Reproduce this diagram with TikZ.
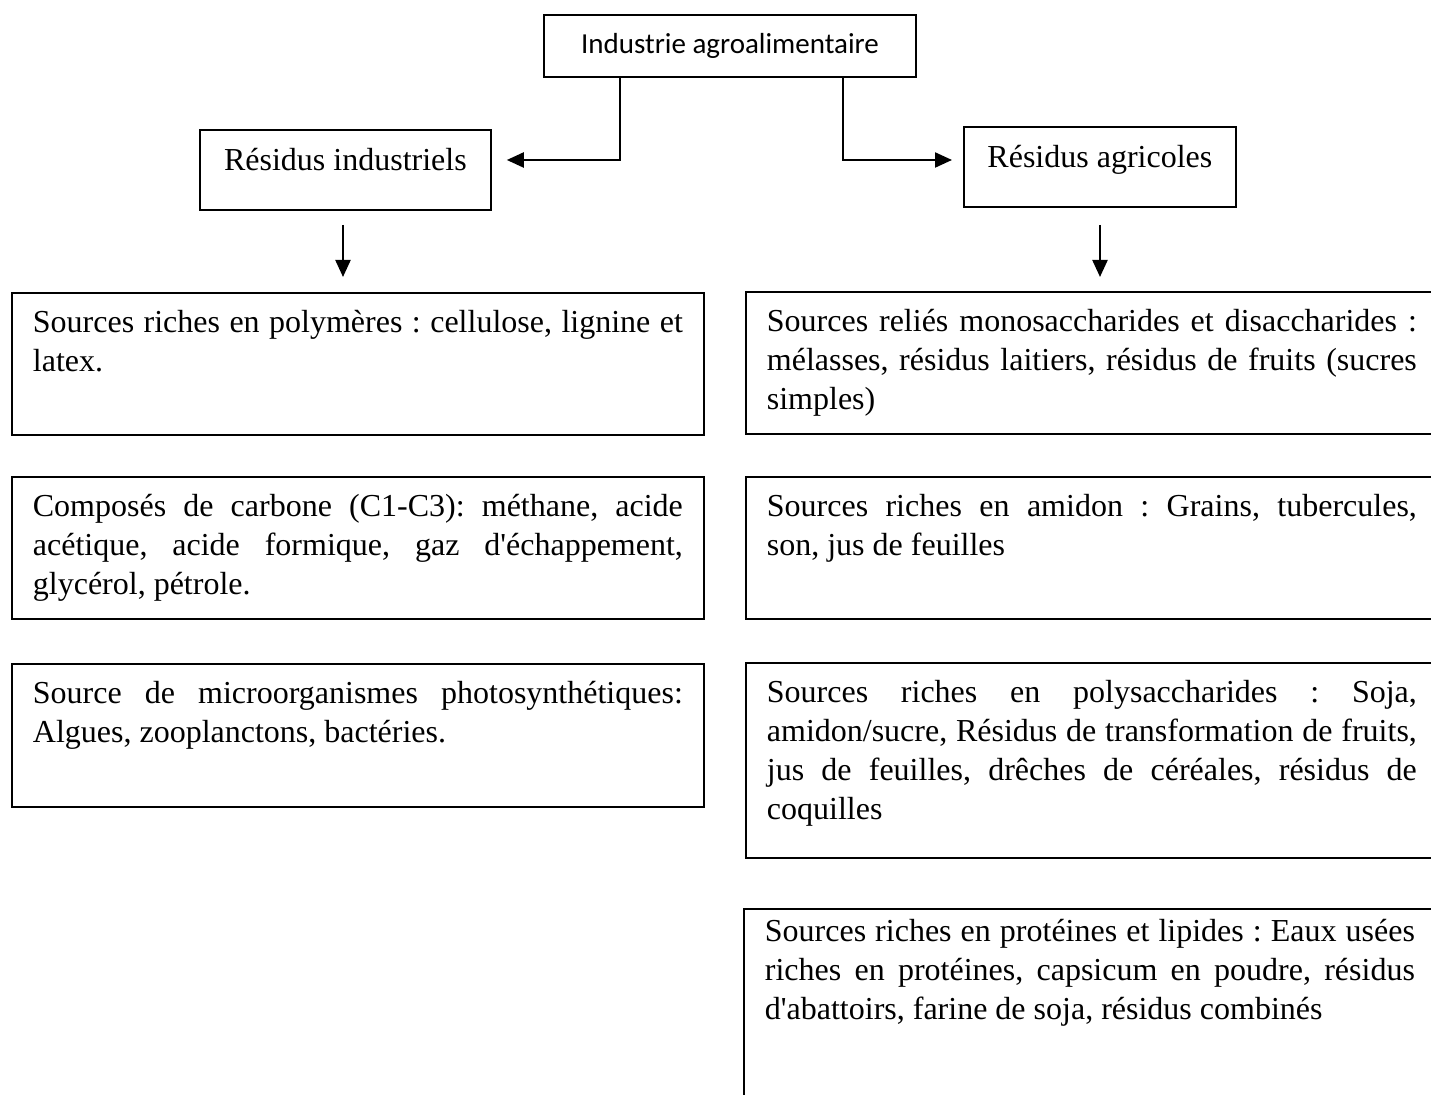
\documentclass[tikz,border=0pt]{standalone}
\usepackage{fontspec}
\setmainfont{Liberation Serif}
\newfontfamily\calibrifont{Carlito}
\usetikzlibrary{arrows.meta}
\frenchspacing
\newcommand\jl[1]{\hbox to \linewidth{#1}}
\newcommand\lastln[1]{\hbox{#1}}
\newcommand\ap{\textquotesingle}
\tikzset{
  every picture/.style={line width=0.9pt},
  txtbox/.style={draw, line width=0.9pt, anchor=north west, inner xsep=10.5pt, inner ysep=0pt,
    font=\fontsize{16pt}{19.5pt}\selectfont},
  titlebox/.style={draw, line width=0.9pt, anchor=north west, inner sep=0pt,
    text height=20.5pt, text depth=19.5pt, font=\fontsize{16pt}{19.5pt}\selectfont},
  arr/.style={line width=1.1pt, -{Triangle[length=8.5pt,width=7.5pt]}}
}
% #1 box height, #2 first baseline distance, #3 first line (justified), #4 remaining lines
\newcommand\bx[4]{\parbox[t][#1][t]{325pt}{\frenchspacing\baselineskip=19.5pt\lineskiplimit=-20pt\jl{\rule{0pt}{#2}#3}#4}}
\begin{document}
\begin{tikzpicture}[x=0.5pt,y=-0.5pt]
\useasboundingbox (0,0) rectangle (1431,1095);
\clip (0,0) rectangle (1431,1095);
\fill[white] (0,0) rectangle (1431,1095);

\node[draw, line width=0.9pt, minimum width=186pt, minimum height=31pt, inner sep=0pt,
  font=\calibrifont\fontsize{14.5pt}{17pt}\selectfont] (top) at (730,46) {Industrie agroalimentaire};

\node[titlebox, minimum width=145.5pt] (ri) at (199,129) {Résidus industriels};
\node[titlebox, minimum width=136pt] (ra) at (963,126) {Résidus agricoles};

\node[txtbox] (l1) at (11,292) {\bx{71pt}{20pt}%
{Sources riches en polymères : cellulose, lignine et}{\lastln{latex.}}};
\node[txtbox] (l2) at (11,476) {\bx{71pt}{20pt}%
{Composés de carbone (C1-C3): méthane, acide}{\jl{acétique, acide formique, gaz d\ap échappement,}\lastln{glycérol, pétrole.}}};
\node[txtbox] (l3) at (11,663) {\bx{71.5pt}{20pt}%
{Source de microorganismes photosynthétiques:}{\lastln{Algues, zooplanctons, bactéries.}}};

\node[txtbox] (r1) at (745,291) {\bx{71pt}{20pt}%
{Sources reliés monosaccharides et disaccharides :}{\jl{mélasses, résidus laitiers, résidus de fruits (sucres}\lastln{simples)}}};
\node[txtbox] (r2) at (745,476) {\bx{71pt}{20pt}%
{Sources riches en amidon : Grains, tubercules,}{\lastln{son, jus de feuilles}}};
\node[txtbox] (r3) at (745,662) {\bx{97.5pt}{20pt}%
{Sources riches en polysaccharides : Soja,}{\jl{amidon/sucre, Résidus de transformation de fruits,}\jl{jus de feuilles, drêches de céréales, résidus de}\lastln{coquilles}}};
\node[txtbox] (r4) at (743,908) {\bx{115pt}{16.5pt}%
{Sources riches en protéines et lipides : Eaux usées}{\jl{riches en protéines, capsicum en poudre, résidus}\lastln{d\ap abattoirs, farine de soja, résidus combinés}}};

\coordinate (k1) at (620,160);
\coordinate (k2) at (843,160);
\draw[arr, shorten >=7.5pt] (top.south -| k1) -- (k1) -- (ri.east |- k1);
\draw[arr, shorten >=5.5pt] (top.south -| k2) -- (k2) -- (ra.west |- k2);

\coordinate (d1) at (343,0);
\coordinate (d2) at (1100,0);
\draw[arr] ([yshift=-7pt]ri.south -| d1) -- ([yshift=7.5pt]l1.north -| d1);
\draw[arr] ([yshift=-8.5pt]ra.south -| d2) -- ([yshift=7pt]r1.north -| d2);
\end{tikzpicture}
\end{document}
